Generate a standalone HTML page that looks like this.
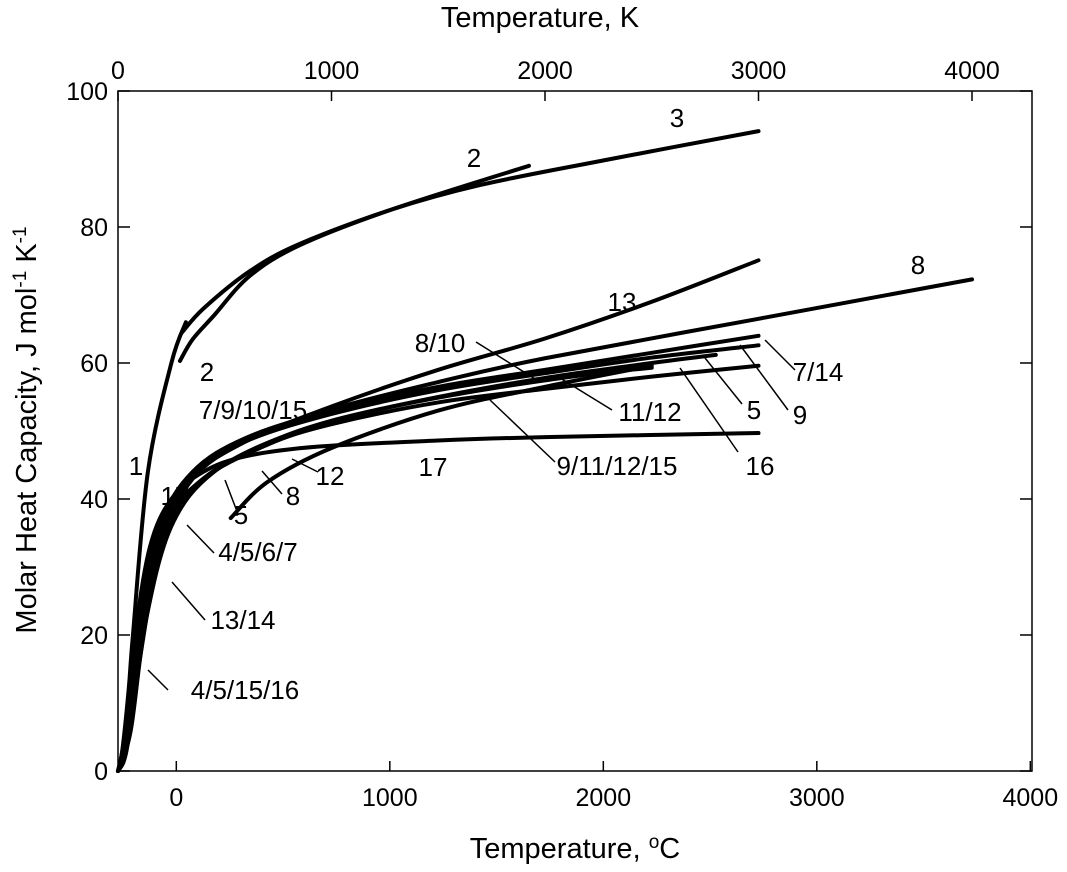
<!DOCTYPE html>
<html><head><meta charset="utf-8"><style>
body{margin:0;background:#fff}
svg text{font-family:"Liberation Sans",sans-serif;fill:#000}
</style></head><body>
<svg id="c" width="1067" height="867"></svg>
<script>
const xTicksC=[0,1000,2000,3000,4000];
const xTicksK=[0,1000,2000,3000,4000];
const yTicks=[0,20,40,60,80,100];
const c1T=[0,20,50,70,140,250,318];const c1V=[0,3,12,20,44,60,66];
const c2T=[290,350,450,617,850,1275,1925];const c2V=[60.3,63.5,67,72.8,77.3,82.5,89];
const c3T=[300,400,617,850,1275,1700,2275,3000];const c3V=[64.5,68,73.5,77.5,82.5,86.2,89.8,94.1];
const c8T=[0,30,80,150,260,450,700,1000,1500,2000,3000,4000];const c8V=[0,3,18,31,40,46,50,53.2,57.2,60.7,66.5,72.3];
const c13T=[0,40,100,200,350,600,1000,1500,2000,2500,3000];const c13V=[0,3,16,33,43,48.5,53.6,59,63.6,69,75.1];
const c7T=[0,40,100,200,350,600,1000,1500,2000,2500,3000];const c7V=[0,4,20,36,44,49,53,56.5,59,61.5,64];
const c9T=[0,40,100,200,350,600,1000,1500,2000,2500,3000];const c9V=[0,4,19,35,43.5,48.5,52.5,56,58.5,60.8,62.6];
const c5T=[0,50,110,220,400,700,1000,1500,2000,2500,2800];const c5V=[0,6,22,36,43,48,51.5,55,57.8,60,61.2];
const c16T=[0,50,110,220,400,700,1000,1500,2000,2500,3000];const c16V=[0,5,21,35,43,48,51,54.2,56.2,58,59.6];
const c17T=[0,30,80,150,250,400,600,935,1500,2000,3000];const c17V=[0,5,20,33,40,44,46.3,47.7,48.6,49.1,49.7];
const c12T=[528,700,1000,1500,2000,2500];const c12V=[37.2,42.5,47.5,53,56.5,59.6];
const c11T=[0,60,130,250,450,800,1200,1700,2200,2500];const c11V=[0,6,22,36,44,49.5,53,56,58.3,59.3];
const curves=[["curve-1",c1T,c1V],["curve-2",c2T,c2V],["curve-3",c3T,c3V],["curve-8",c8T,c8V],["curve-13",c13T,c13V],["curve-7-14",c7T,c7V],["curve-9",c9T,c9V],["curve-5",c5T,c5V],["curve-16",c16T,c16V],["curve-17",c17T,c17V],["curve-12",c12T,c12V],["curve-11",c11T,c11V]];
const L=118,R=1032,T=91,B=771;
const xK=t=>L+t*0.2135, xC=c=>xK(c+273.15), y=v=>B-(v/100)*(B-T);
const svg=document.getElementById('c');const NS="http://www.w3.org/2000/svg";
function mk(tag,a,txt){const e=document.createElementNS(NS,tag);for(const k in a)e.setAttribute(k,a[k]);if(txt!==undefined)e.textContent=txt;svg.appendChild(e);return e;}
let e=mk('rect',{x:L,y:T,width:R-L,height:B-T,fill:'none',stroke:'#000','stroke-width':1.5});

xTicksC.forEach(t=>{const X=xC(t);e=mk('line',{x1:X,x2:X,y1:B,y2:B-10,stroke:'#000','stroke-width':1.5});

e=mk('text',{x:X,y:B+35,'font-size':25,'text-anchor':'middle'},t);
});
xTicksK.forEach(t=>{const X=xK(t);e=mk('line',{x1:X,x2:X,y1:T,y2:T+10,stroke:'#000','stroke-width':1.5});

e=mk('text',{x:X,y:T-12,'font-size':25,'text-anchor':'middle'},t);
});
yTicks.forEach(v=>{const Y=y(v);e=mk('line',{x1:L,x2:L+12,y1:Y,y2:Y,stroke:'#000','stroke-width':1.5});

e=mk('line',{x1:R,x2:R-12,y1:Y,y2:Y,stroke:'#000','stroke-width':1.5});

e=mk('text',{x:L-10,y:Y+9,'font-size':25,'text-anchor':'end'},v);
});
function path(ts,vs){const p=ts.map((t,i)=>[xK(t),y(vs[i])]);let d=`M${p[0][0]},${p[0][1]}`;
for(let i=0;i<p.length-1;i++){const p0=p[i-1]||p[i],p1=p[i],p2=p[i+1],p3=p[i+2]||p2;
d+=` C${p1[0]+(p2[0]-p0[0])/6},${p1[1]+(p2[1]-p0[1])/6} ${p2[0]-(p3[0]-p1[0])/6},${p2[1]-(p3[1]-p1[1])/6} ${p2[0]},${p2[1]}`;}return d;}
curves.forEach(cv=>{e=mk('path',{d:path(cv[1],cv[2]),fill:'none',stroke:'#000','stroke-width':4,'stroke-linecap':'round'});
});
const labels=[["3",677,127],["2",474,167],["13",622,311],["8",918,274],["8/10",440,352],["2",207,381],["7/9/10/15",253,419],["1",136,475],["17",175,505],["12",330,485],["8",293,505],["5",241,524],["4/5/6/7",258,561],["13/14",243,629],["4/5/15/16",245,699],["17",433,476],["9/11/12/15",617,475],["11/12",650,421],["16",760,475],["5",754,419],["9",800,424],["7/14",818,381]];
labels.forEach(l=>{e=mk('text',{x:l[1],y:l[2],'font-size':26,'text-anchor':'middle'},l[0]);
});
const leaders=[[476,342,540,382],[318,472,292,459],[282,494,262,471],[238,514,225,480],[214,553,187,525],[205,620,172,582],[168,690,148,670],[555,462,490,400],[612,410,560,378],[738,452,680,368],[742,404,705,358],[788,410,740,345],[795,370,765,340]];
leaders.forEach(a=>{e=mk('line',{x1:a[0],y1:a[1],x2:a[2],y2:a[3],stroke:'#000','stroke-width':1.5});
});
e=mk('text',{x:540,y:27,'font-size':29,'text-anchor':'middle'},'Temperature, K');

e=mk('text',{x:575,y:858,'font-size':29,'text-anchor':'middle'});

e.innerHTML='Temperature, <tspan dy="-10" font-size="19">o</tspan><tspan dy="10">C</tspan>';
e=mk('text',{x:0,y:0,'font-size':29,'text-anchor':'middle',transform:'translate(36,430) rotate(-90)'});

e.innerHTML='Molar Heat Capacity, J mol<tspan dy="-10" font-size="19">-1</tspan><tspan dy="10"> K</tspan><tspan dy="-10" font-size="19">-1</tspan>';
</script></body></html>
